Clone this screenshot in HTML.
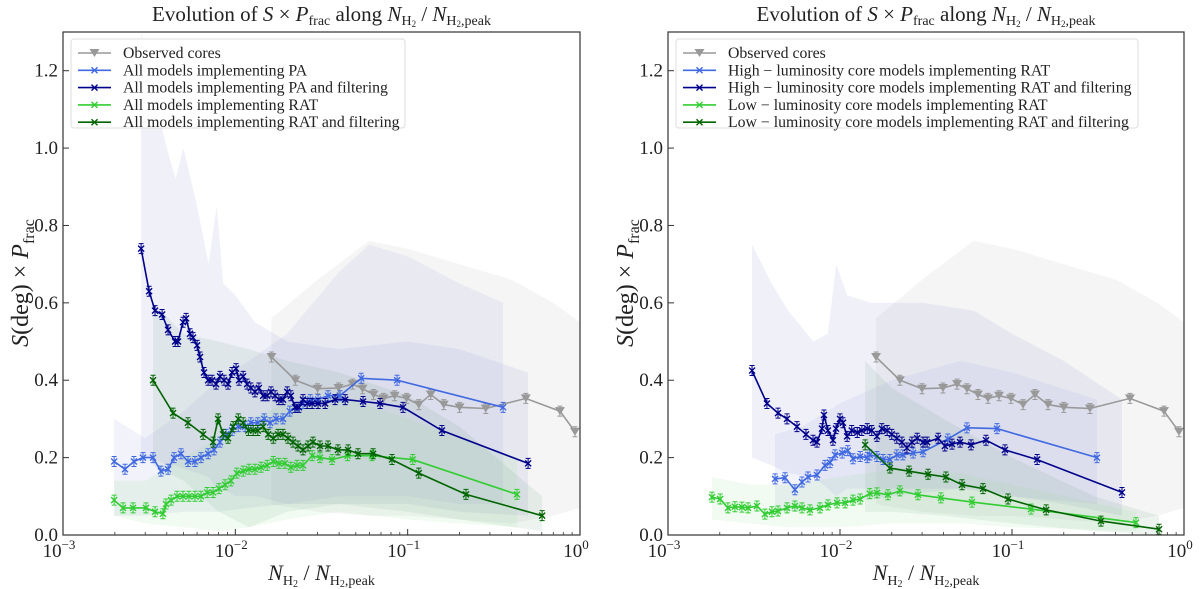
<!DOCTYPE html>
<html><head><meta charset="utf-8">
<style>
body{margin:0;background:#fff;}
svg{display:block;font-family:"Liberation Serif","DejaVu Serif",serif;}
</style></head>
<body>
<svg id="chart" width="1200" height="589" viewBox="0 0 1200 589" xmlns="http://www.w3.org/2000/svg">
<g id="bands"></g><g id="series"></g><g id="axes"></g>
</svg>
<script>
// ---------- data ----------
const obsX = [0.0162,0.0223,0.0300,0.0397,0.0479,0.0547,0.0634,0.0725,0.0840,0.0986,0.116,0.136,0.162,0.200,0.284,0.485,0.765,0.935];
const obsY = [0.46,0.40,0.378,0.38,0.39,0.378,0.363,0.353,0.36,0.353,0.337,0.363,0.337,0.33,0.327,0.353,0.32,0.267];

const paX = [0.00198,0.00229,0.00258,0.00291,0.00333,0.00370,0.00407,0.00441,0.00484,0.00531,0.00583,0.00632,0.00695,0.00752,0.00815,0.00883,0.00957,0.0104,0.0114,0.0123,0.0135,0.0147,0.0159,0.0172,0.0189,0.0207,0.0228,0.0247,0.0272,0.0302,0.0345,0.0405,0.0537,0.0868,0.358];
const paY = [.19,.17,.19,.20,.20,.165,.17,.20,.21,.19,.19,.20,.21,.22,.24,.26,.27,.28,.28,.29,.29,.30,.29,.30,.30,.32,.33,.34,.35,.35,.36,.36,.405,.40,.33];

const paFX = [0.00284,0.00316,0.00342,0.00376,0.00407,0.00447,0.00465,0.00497,0.00518,0.00546,0.00568,0.00600,0.00624,0.00658,0.00695,0.00733,0.00773,0.00815,0.00860,0.00907,0.00957,0.0101,0.0105,0.0111,0.0117,0.0123,0.0130,0.0137,0.0145,0.0153,0.0161,0.0170,0.0179,0.0189,0.0200,0.0210,0.0222,0.0234,0.0247,0.0261,0.0279,0.0302,0.0332,0.0379,0.0434,0.0551,0.0692,0.0940,0.158,0.500];
const paFY = [.74,.63,.58,.57,.53,.50,.50,.55,.56,.52,.51,.49,.46,.42,.40,.40,.39,.41,.40,.39,.42,.43,.40,.41,.39,.38,.37,.38,.36,.36,.37,.36,.35,.35,.37,.36,.33,.33,.35,.34,.34,.34,.34,.35,.35,.345,.34,.33,.27,.185];

const ratX = [0.00198,0.00223,0.00255,0.00303,0.00342,0.00380,0.00396,0.00424,0.00459,0.00497,0.00538,0.00583,0.00632,0.00686,0.00743,0.00804,0.00872,0.00944,0.0102,0.0111,0.0120,0.0130,0.0141,0.0153,0.0166,0.0179,0.0194,0.0210,0.0228,0.0247,0.0279,0.0310,0.0364,0.0448,0.0621,0.107,0.431];
const ratY = [.09,.07,.07,.07,.06,.055,.08,.09,.10,.10,.10,.10,.10,.11,.11,.12,.13,.14,.16,.165,.17,.17,.175,.18,.19,.185,.185,.175,.18,.18,.205,.20,.195,.205,.205,.195,.105];

const ratFX = [0.00333,0.00435,0.00531,0.00650,0.00743,0.00794,0.00849,0.00907,0.00971,0.0104,0.0111,0.0119,0.0127,0.0135,0.0145,0.0155,0.0166,0.0177,0.0189,0.0202,0.0216,0.0231,0.0247,0.0264,0.0282,0.0310,0.0345,0.0394,0.0451,0.0515,0.0630,0.0811,0.116,0.218,0.603];
const ratFY = [.40,.315,.29,.26,.24,.30,.26,.25,.28,.30,.29,.27,.27,.27,.28,.26,.25,.26,.26,.25,.24,.23,.22,.23,.24,.23,.23,.22,.22,.21,.21,.195,.16,.105,.05];

const hlX = [0.00419,0.00479,0.00547,0.00601,0.00651,0.00735,0.00818,0.00875,0.00935,0.0103,0.0111,0.0119,0.0131,0.0144,0.0149,0.0164,0.0178,0.0195,0.0214,0.0232,0.0266,0.0304,0.0424,0.0547,0.0818,0.312];
const hlY = [.145,.148,.117,.137,.15,.155,.18,.187,.207,.212,.218,.197,.203,.2,.207,.203,.195,.195,.207,.207,.212,.215,.248,.277,.275,.2];

const hlFX = [0.00308,0.00376,0.00436,0.00492,0.00562,0.00634,0.00697,0.00735,0.00786,0.00807,0.00851,0.00910,0.00948,0.0100,0.0104,0.0110,0.0117,0.0126,0.0134,0.0144,0.0153,0.0164,0.0175,0.0188,0.0200,0.0214,0.0229,0.0245,0.0262,0.0281,0.0304,0.0321,0.0372,0.0407,0.0448,0.0499,0.0578,0.0706,0.0910,0.140,0.436];
const hlFY = [.425,.34,.315,.30,.28,.26,.245,.24,.275,.31,.27,.245,.275,.30,.29,.255,.27,.265,.27,.275,.27,.255,.275,.27,.26,.25,.24,.225,.24,.25,.24,.24,.25,.23,.235,.24,.233,.245,.22,.195,.11];

const llX = [0.00180,0.00201,0.00223,0.00245,0.00269,0.00292,0.00329,0.00366,0.00402,0.00436,0.00492,0.00547,0.00601,0.00669,0.00765,0.00851,0.00961,0.0107,0.0119,0.0131,0.0149,0.0164,0.0190,0.0223,0.0284,0.0386,0.0585,0.129,0.526];
const llY = [.098,.093,.07,.073,.072,.07,.075,.054,.06,.062,.07,.075,.07,.065,.07,.078,.083,.083,.09,.093,.107,.109,.104,.114,.104,.096,.085,.067,.032];

const llFX = [0.0140,0.0195,0.0252,0.0325,0.0413,0.0512,0.0678,0.0948,0.158,0.329,0.716];
const llFY = [.233,.173,.165,.157,.15,.13,.12,.093,.065,.036,.015];

// bands: x, low, high
const bObsX = [0.0162,0.03,0.06,0.1,0.2,0.4,0.7,1.0];
const bObsLo = [0.08,0.06,0.05,0.05,0.04,0.03,0.05,0.07];
const bObsHi = [0.56,0.66,0.76,0.74,0.7,0.66,0.6,0.55];
const bPaFX = [0.00284,0.0033,0.004,0.0045,0.005,0.006,0.007,0.0078,0.0085,0.01,0.013,0.02,0.04,0.1,0.2,0.5];
const bPaFLo = [0.2,0.2,0.18,0.18,0.17,0.16,0.15,0.12,0.12,0.1,0.1,0.08,0.08,0.08,0.06,0.05];
const bPaFHi = [1.3,1.15,1.0,0.92,1.0,0.85,0.7,0.85,0.65,0.62,0.55,0.5,0.48,0.5,0.48,0.42];
const bPaX = [0.00198,0.003,0.005,0.008,0.012,0.02,0.04,0.06,0.1,0.2,0.358];
const bPaLo = [0.05,0.05,0.06,0.06,0.07,0.08,0.1,0.1,0.1,0.08,0.08];
const bPaHi = [0.3,0.25,0.32,0.4,0.45,0.52,0.68,0.75,0.72,0.65,0.6];
const bRatX = [0.00198,0.003,0.005,0.008,0.012,0.02,0.04,0.1,0.2,0.431];
const bRatLo = [0.05,0.03,0.02,0.01,0.02,0.04,0.06,0.04,0.03,0.02];
const bRatHi = [0.14,0.14,0.2,0.25,0.3,0.34,0.36,0.3,0.25,0.2];
const bRatFX = [0.00333,0.005,0.008,0.012,0.02,0.04,0.1,0.2,0.603];
const bRatFLo = [0.18,0.14,0.06,0.02,0.06,0.08,0.06,0.04,0.01];
const bRatFHi = [0.6,0.52,0.5,0.48,0.45,0.42,0.36,0.28,0.1];
const bHlFX = [0.00308,0.004,0.005,0.007,0.0085,0.0095,0.011,0.015,0.03,0.06,0.1,0.2,0.436];
const bHlFLo = [0.2,0.18,0.16,0.15,0.12,0.1,0.12,0.12,0.12,0.12,0.1,0.08,0.05];
const bHlFHi = [0.75,0.65,0.58,0.5,0.52,0.7,0.62,0.6,0.6,0.58,0.52,0.45,0.35];
const bHlX = [0.00419,0.006,0.01,0.02,0.05,0.1,0.312];
const bHlLo = [0.06,0.06,0.08,0.1,0.12,0.1,0.08];
const bHlHi = [0.26,0.28,0.34,0.4,0.45,0.42,0.35];
const bLlX = [0.0018,0.003,0.005,0.01,0.02,0.05,0.1,0.526];
const bLlLo = [0.04,0.03,0.02,0.02,0.03,0.03,0.02,0.01];
const bLlHi = [0.15,0.13,0.13,0.15,0.17,0.16,0.13,0.06];
const bLlFX = [0.014,0.02,0.04,0.1,0.3,0.716];
const bLlFLo = [0.06,0.06,0.05,0.03,0.01,0.0];
const bLlFHi = [0.45,0.38,0.3,0.2,0.1,0.05];

const yTicks = [0.0,0.2,0.4,0.6,0.8,1.0,1.2];
const xTickExp = [-3,-2,-1,0];

// ---------- drawing ----------
const NS = "http://www.w3.org/2000/svg";
const Y0 = 535, Y1 = 32, YMAX = 1.3;
const panels = [{x0:63,x1:580},{x0:668,x1:1184}];
function sx(v,p){return p.x0 + (Math.log10(v)+3)/3*(p.x1-p.x0);}
function sy(v){return Y0 - v/YMAX*(Y0-Y1);}
function mk(tag,attrs,parent){const e=document.createElementNS(NS,tag);for(const k in attrs)e.setAttribute(k,attrs[k]);parent.appendChild(e);return e;}
const gB=document.getElementById('bands'),gS=document.getElementById('series'),gA=document.getElementById('axes');

function band(p,xs,lo,hi,color,op,name){
  let pts=xs.map((x,i)=>sx(x,p).toFixed(1)+','+sy(hi[i]).toFixed(1));
  for(let i=xs.length-1;i>=0;i--)pts.push(sx(xs[i],p).toFixed(1)+','+sy(lo[i]).toFixed(1));
  const e=mk('polygon',{points:pts.join(' '),fill:color,'fill-opacity':op},gB);
  
  
}
function series(p,xs,ys,color,marker,name){
  const g=mk('g',{},gS);
  
  
  const d=xs.map((x,i)=>(i?'L':'M')+sx(x,p).toFixed(1)+','+sy(ys[i]).toFixed(1)).join('');
  mk('path',{d:d,fill:'none',stroke:color,'stroke-width':1.6},g);
  xs.forEach((x,i)=>{
    const cx=sx(x,p),cy=sy(ys[i]);
    mk('path',{d:`M${cx},${cy-5}V${cy+5}M${cx-2.5},${cy-5}H${cx+2.5}M${cx-2.5},${cy+5}H${cx+2.5}`,stroke:color,'stroke-width':1,fill:'none'},g);
    if(marker==='x'){
      mk('path',{d:`M${cx-3},${cy-3}L${cx+3},${cy+3}M${cx-3},${cy+3}L${cx+3},${cy-3}`,stroke:color,'stroke-width':1.4},g);
    } else {
      mk('polygon',{points:`${cx-5},${cy-4} ${cx+5},${cy-4} ${cx},${cy+4}`,fill:color},g);
    }
  });
}
const C={obs:'#999999',pa:'#4169e1',paF:'#00008b',rat:'#32cd32',ratF:'#006400',band:'#a4a8dc',gband:'#cccccc',grn:'#8fdc8f'};
const L=panels[0],R=panels[1];
band(L,bObsX,bObsLo,bObsHi,C.gband,0.2,'left-band-observed');
band(L,bPaFX,bPaFLo,bPaFHi,C.band,0.17,'left-band-pa-filtered');
band(L,bPaX,bPaLo,bPaHi,C.band,0.15,'left-band-pa');
band(L,bRatFX,bRatFLo,bRatFHi,'#5a9a6a',0.11,'left-band-rat-filtered');
band(L,bRatX,bRatLo,bRatHi,C.grn,0.12,'left-band-rat');
band(R,bObsX,bObsLo,bObsHi,C.gband,0.2,'right-band-observed');
band(R,bHlFX,bHlFLo,bHlFHi,C.band,0.17,'right-band-high-lum-filtered');
band(R,bHlX,bHlLo,bHlHi,C.band,0.15,'right-band-high-lum');
band(R,bLlFX,bLlFLo,bLlFHi,'#5a9a6a',0.11,'right-band-low-lum-filtered');
band(R,bLlX,bLlLo,bLlHi,C.grn,0.12,'right-band-low-lum');
series(L,obsX,obsY,C.obs,'v','left-series-observed');
series(L,paX,paY,C.pa,'x','left-series-pa');
series(L,paFX,paFY,C.paF,'x','left-series-pa-filtered');
series(L,ratX,ratY,C.rat,'x','left-series-rat');
series(L,ratFX,ratFY,C.ratF,'x','left-series-rat-filtered');
series(R,obsX,obsY,C.obs,'v','right-series-observed');
series(R,hlX,hlY,C.pa,'x','right-series-high-lum');
series(R,hlFX,hlFY,C.paF,'x','right-series-high-lum-filtered');
series(R,llX,llY,C.rat,'x','right-series-low-lum');
series(R,llFX,llFY,C.ratF,'x','right-series-low-lum-filtered');

panels.forEach((p,pi)=>{
  const side=pi?'right':'left';
  const g=mk('g',{},gA);
  
  
  mk('rect',{x:p.x0,y:Y1,width:p.x1-p.x0,height:Y0-Y1,fill:'none',stroke:'#333','stroke-width':1.2},g);
  yTicks.forEach(v=>{
    const y=sy(v);
    mk('line',{x1:p.x0,x2:p.x0+6,y1:y,y2:y,stroke:'#333','stroke-width':1},g);
    const t=mk('text',{x:p.x0-5,y:y+6,'text-anchor':'end','font-size':19,fill:'#222'},g);
    t.textContent=v.toFixed(1);
    
    
  });
  xTickExp.forEach(e=>{
    const x=sx(Math.pow(10,e),p);
    mk('line',{x1:x,x2:x,y1:Y0,y2:Y0-6,stroke:'#333','stroke-width':1},g);
    const t=mk('text',{x:x-4,y:Y0+22,'text-anchor':'middle','font-size':19,fill:'#222'},g);
    
    
    t.innerHTML='10<tspan dy="-8" font-size="13">'+(e<0?'\u2212'+(-e):e)+'</tspan>';
    if(e<0){for(let m=2;m<10;m++){const xm=sx(m*Math.pow(10,e),p);mk('line',{x1:xm,x2:xm,y1:Y0,y2:Y0-3,stroke:'#333','stroke-width':0.8},g);}}
  });
  const cx=(p.x0+p.x1)/2;
  const xl=mk('text',{x:cx,y:580,'text-anchor':'middle','font-size':22,fill:'#222'},g);
  
  
  xl.innerHTML='<tspan font-style="italic">N</tspan><tspan font-size="14" dy="5">H</tspan><tspan font-size="10" dy="2">2</tspan><tspan dy="-7"> / </tspan><tspan font-style="italic">N</tspan><tspan font-size="14" dy="5">H</tspan><tspan font-size="10" dy="2">2</tspan><tspan font-size="14" dy="-2">,peak</tspan>';
  const yl=mk('text',{x:0,y:0,'text-anchor':'middle','font-size':24,fill:'#222',transform:`translate(${p.x0-35},283) rotate(-90)`},g);
  
  
  yl.innerHTML='<tspan font-style="italic">S</tspan>(deg) \u00d7 <tspan font-style="italic">P</tspan><tspan font-size="16" dy="6">frac</tspan>';
  const tt=mk('text',{x:cx,y:21,'text-anchor':'middle','font-size':21,fill:'#222'},g);
  
  
  tt.innerHTML='Evolution of <tspan font-style="italic">S</tspan> \u00d7 <tspan font-style="italic">P</tspan><tspan font-size="14" dy="4">frac</tspan><tspan dy="-4"> along </tspan><tspan font-style="italic">N</tspan><tspan font-size="14" dy="4">H</tspan><tspan font-size="9" dy="2">2</tspan><tspan dy="-6"> / </tspan><tspan font-style="italic">N</tspan><tspan font-size="14" dy="4">H</tspan><tspan font-size="9" dy="2">2</tspan><tspan font-size="14" dy="-2">,peak</tspan>';
});

const legL=['Observed cores','All models implementing PA','All models implementing PA and filtering','All models implementing RAT','All models implementing RAT and filtering'];
const legR=['Observed cores','High \u2212 luminosity core models implementing RAT','High \u2212 luminosity core models implementing RAT and filtering','Low \u2212 luminosity core models implementing RAT','Low \u2212 luminosity core models implementing RAT and filtering'];
const legC=[C.obs,C.pa,C.paF,C.rat,C.ratF];
[[legL,L,334],[legR,R,462]].forEach(([labels,p,w],pi)=>{
  const g=mk('g',{},gA);
  
  
  const bx=p.x0+8;
  mk('rect',{x:bx,y:39,width:w,height:89,rx:3,fill:'#fff','fill-opacity':0.85,stroke:'#ddd'},g);
  labels.forEach((lab,i)=>{
    const y=53+i*17.3;
    const e=mk('g',{},g);
    
    
    mk('line',{x1:bx+7,x2:bx+40,y1:y,y2:y,stroke:legC[i],'stroke-width':1.6},e);
    const cx=bx+23.5;
    if(i===0) mk('polygon',{points:`${cx-5},${y-4} ${cx+5},${y-4} ${cx},${y+4}`,fill:legC[i]},e);
    else mk('path',{d:`M${cx-3},${y-3}L${cx+3},${y+3}M${cx-3},${y+3}L${cx+3},${y-3}`,stroke:legC[i],'stroke-width':1.4},e);
    const t=mk('text',{x:bx+52,y:y+5,'font-size':15.8,fill:'#222'},e);
    t.textContent=lab;
  });
});
</script>
</body></html>
